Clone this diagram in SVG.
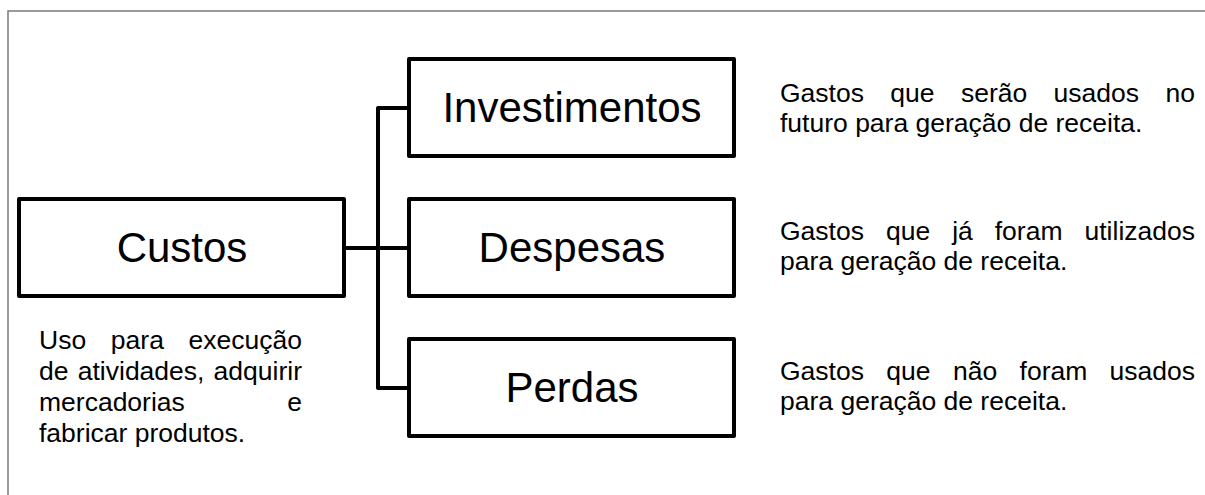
<svg xmlns="http://www.w3.org/2000/svg" width="1205" height="495" viewBox="0 0 1205 495">
  <style>
    .box { fill: #ffffff; stroke: #000000; stroke-width: 4; stroke-linejoin: round; }
    .conn { fill: none; stroke: #000000; stroke-width: 4; stroke-linejoin: round; stroke-linecap: butt; }
    .title { font-family: "Liberation Sans", Arial, sans-serif; font-size: 42px; fill: #000000; text-anchor: middle; }
    .desc { font-family: "Liberation Sans", Arial, sans-serif; font-size: 26.5px; fill: #000000; }
    .end { text-anchor: end; }
    .frame { fill: none; stroke: #7a7a7a; stroke-width: 1.5; }
  </style>
  <rect x="0" y="0" width="1205" height="495" fill="#ffffff"/>
  <rect class="frame" x="8" y="11" width="1300" height="600"/>

  <g id="connectors">
    <path class="conn" d="M344 248 H409"/>
    <path class="conn" d="M409 108 H378 V388 H409"/>
  </g>

  <g id="node-custos">
    <rect class="box" x="19" y="199" width="325" height="97"/>
    <text class="title" x="182" y="262">Custos</text>
  </g>

  <g id="node-investimentos">
    <rect class="box" x="409" y="59" width="325" height="97"/>
    <text class="title" x="572" y="122">Investimentos</text>
  </g>

  <g id="node-despesas">
    <rect class="box" x="409" y="199" width="325" height="97"/>
    <text class="title" x="572" y="262">Despesas</text>
  </g>

  <g id="node-perdas">
    <rect class="box" x="409" y="339" width="325" height="97"/>
    <text class="title" x="572" y="402">Perdas</text>
  </g>

  <g id="text-custos">
    <text class="desc" y="349"><tspan x="39">Uso</tspan><tspan x="110.85">para</tspan><tspan x="302" class="end">execução</tspan></text>
    <text class="desc" y="380"><tspan x="39">de</tspan><tspan x="77.75">atividades,</tspan><tspan x="302" class="end">adquirir</tspan></text>
    <text class="desc" y="411"><tspan x="39">mercadorias</tspan><tspan x="302" class="end">e</tspan></text>
    <text class="desc" x="39" y="442">fabricar produtos.</text>
  </g>

  <g id="text-investimentos">
    <text class="desc" y="102"><tspan x="780">Gastos</tspan><tspan x="890.35">que</tspan><tspan x="960.95">serão</tspan><tspan x="1053.6">usados</tspan><tspan x="1195" class="end">no</tspan></text>
    <text class="desc" x="780" y="132">futuro para geração de receita.</text>
  </g>

  <g id="text-despesas">
    <text class="desc" y="240"><tspan x="780">Gastos</tspan><tspan x="885.95">que</tspan><tspan x="952.15">já</tspan><tspan x="994.75">foram</tspan><tspan x="1195" class="end">utilizados</tspan></text>
    <text class="desc" x="780" y="270">para geração de receita.</text>
  </g>

  <g id="text-perdas">
    <text class="desc" y="380"><tspan x="780">Gastos</tspan><tspan x="886.35">que</tspan><tspan x="952.95">não</tspan><tspan x="1019.55">foram</tspan><tspan x="1195" class="end">usados</tspan></text>
    <text class="desc" x="780" y="410">para geração de receita.</text>
  </g>
</svg>
